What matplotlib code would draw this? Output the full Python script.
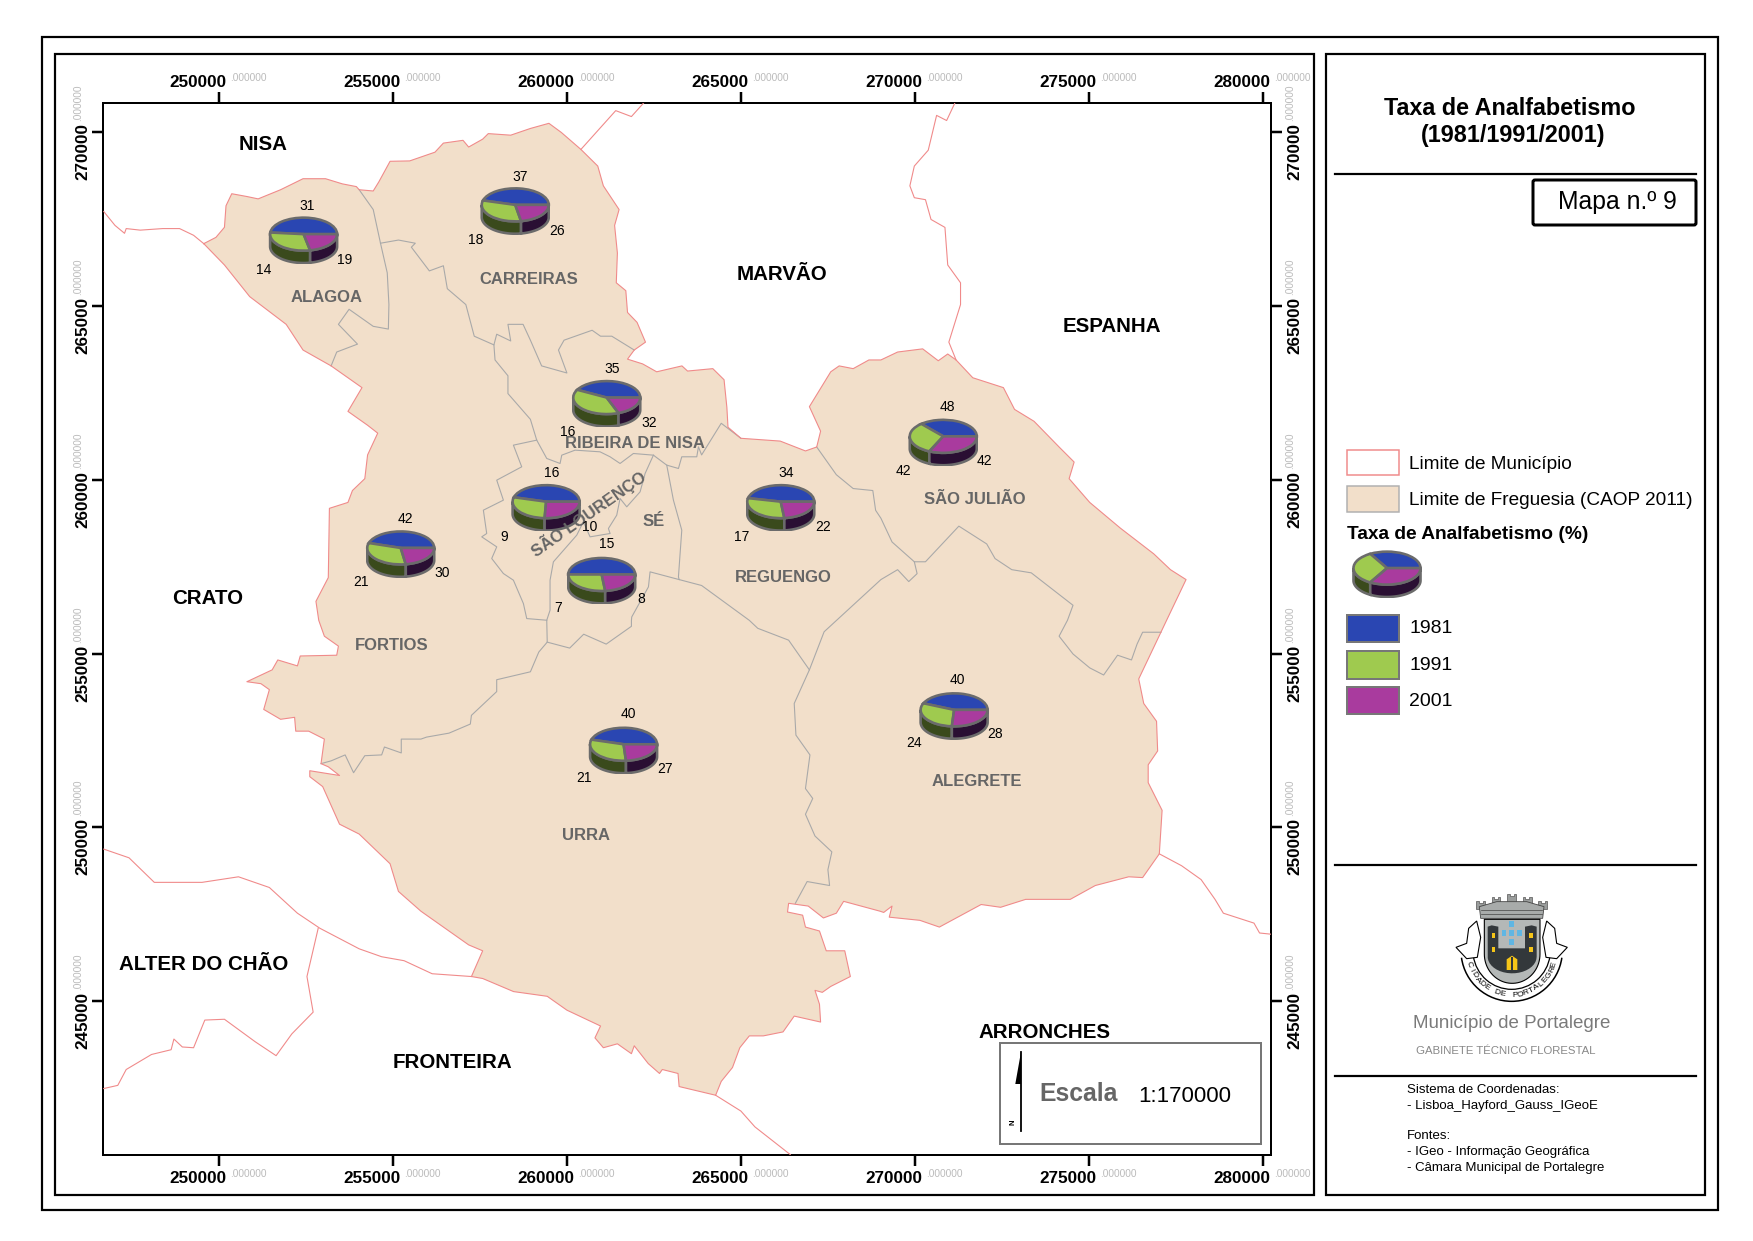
import numpy as np
import matplotlib
matplotlib.use("Agg")
import matplotlib.pyplot as plt
from matplotlib.patches import Rectangle, Polygon, Arc, FancyBboxPatch

plt.rcParams["font.family"] = ["Liberation Sans", "DejaVu Sans"]

W, H = 1753, 1241
DPI = 100

# ---- limites digitalizados (metros, Lisboa Hayford Gauss) ----
concelho = [
    (249550,266790),(249900,266970),(250145,267260),(250190,267880),(250355,268225),(250790,268145),
    (251113,268077),(251758,268340),(252403,268657),(253049,268657),(253532,268509),(253936,268430),
    (254016,268340),(254420,268304),(254581,268566),(254904,269158),(255468,269169),(256194,269420),
    (256436,269681),(257000,269761),(257162,269568),(257565,269795),(257726,269954),(258371,269909),
    (258936,270102),(259468,270250),(259823,269989),(260388,269499),(260872,269021),(261033,268452),
    (261485,267770),(261356,267314),(261436,266518),(261404,265664),(261678,265437),(261727,264811),
    (262001,264526),(262243,263957),(261920,263730),(261727,263468),(262162,263331),(262565,263104),
    (263291,263274),(263452,263126),(264178,263195),(264501,262876),(264582,262080),(264614,261511),
    (264985,261192),(266114,261112),(266840,260828),(267163,260942),(267275,261397),(266953,262102),
    (267566,263104),(267808,263274),(268211,263195),(268663,263445),(269008,263445),(269488,263673),
    (270208,263764),(270656,263422),(270928,263616),(271168,263445),(271648,262933),(272528,262649),
    (272848,262023),(273408,261681),(274128,260942),(274560,260509),(274416,260031),(275008,259348),
    (275888,258609),(276848,257869),(277328,257414),(277776,257129),(277216,255956),(276416,254272),
    (276560,253566),(276928,253054),(276960,252201),(276688,251802),(276688,251290),(277088,250494),
    (277008,249242),(276528,248559),(276128,248582),(275168,248331),(274448,247933),(273168,247933),
    (272448,247705),(271888,247785),(270688,247136),(270128,247330),(269248,247421),(269328,247740),
    (269088,247557),(268985,247592),(267937,247876),(267727,247535),(267356,247398),(266920,247740),
    (266356,247819),(266324,247569),(266759,247478),(266840,247136),(267243,247023),(267437,246454),
    (267969,246454),(268130,245714),(267566,245429),(267324,245259),(267114,245316),(267243,244917),
    (267275,244405),(266517,244576),(266195,244121),(265630,244007),(265227,244007),(264953,243666),
    (264743,243097),(264420,242698),(264259,242300),(263210,242550),(263178,242926),(262727,243040),
    (262646,242926),(262323,243210),(261920,243722),(261839,243495),(261436,243779),(261033,243666),
    (260791,243950),(260952,244291),(259985,244747),(259420,245145),(258452,245281),(257565,245657),
    (257242,245714),(257565,246454),(257162,246624),(255791,247592),(255145,248161),(254904,248957),
    (254016,249811),(253452,250095),(252968,251176),(252597,251461),(252597,251632),(253452,251495),
    (253129,251745),(252920,251836),(253016,252542),(252565,252770),(252194,252770),(252161,253168),
    (251758,253111),(251274,253395),(251436,253964),(251194,254135),(250790,254192),(251516,254533),
    (251678,254818),(252242,254647),(252323,254932),(253371,254954),(253420,255216),(253016,255501),
    (252855,255956),(252774,256503),(253129,257186),(253161,259178),(253694,259348),(253823,259690),
    (254178,260031),(254258,260714),(254549,261340),(254258,261567),(253694,261966),(254097,262649),
    (253210,263274),(252403,263730),(251919,264469),(250871,265266),(250145,266176),
]

# limites de municipio exteriores
municipios = [
    [(246677,267713),(247000,267314),(247274,267087),(247322,267223),(247726,267178),(248371,267223),
     (248855,267223),(249258,267030),(249550,266790)],
    [(260388,269499),(261388,270615),(261839,270444),(262194,270840)],
    [(271136,270840),(270896,270330),(270608,270478),(270368,269477),(269968,269021),(269840,268452),
     (269968,268111),(270288,268054),(270448,267485),(270848,267257),(270928,266176),(271296,265664),
     (271296,265038),(270960,263957),(271168,263445)],
    [(246677,249378),(247403,249128),(248129,248422),(249500,248422),(250548,248582),(251436,248274),
     (252242,247535),(252887,247102),(254016,246511),(254662,246283),(255307,246169),(256113,245794),
     (257242,245714)],
    [(252839,247102),(252516,245714),(252694,244690),(252081,244064),(251629,243438),(251032,243836),
     (250145,244485),(249581,244462),(249258,243666),(248935,243688),(248693,243916),(248613,243609),
     (248048,243472),(247322,243040),(247080,242584),(246677,242493)],
    [(264259,242300),(264985,241845),(265388,241390),(266404,240593)],
    [(277008,249242),(277648,248900),(278208,248502),(278608,247933),(278848,247535),(279728,247250),
     (279888,246966),(280208,246932)],
]

# limites de freguesia interiores
freguesias = [
    [(254016,268340),(254420,267770),(254629,266802),(254823,265949),(254871,265038),(254855,264333),
     (254420,264412),(253726,264902),(253420,264469),(253968,263900),(253371,263673),(253210,263274)],
    [(254629,266802),(255145,266893),(255629,266802),(255516,266688),(256033,266006),(256436,266154),
     (256549,265494),(257081,265038),(257323,264128),(257888,263878),(257968,264185),(258371,263991),
     (258291,264469),(258726,264469),(258936,264014),(259259,263274),(259985,263070),(259743,263730),
     (259904,264014),(260710,264299),(260952,264128),(261275,264128),(261920,263730)],
    [(257888,263878),(257920,263445),(258291,262990),(258291,262478),(258936,261738),(259118,261139),
     (259406,260612),(259789,260468),(259837,260707),(260220,260851),(260938,260803),(261226,260660),
     (261513,260468),(261896,260755),(262471,260707),(262854,260420),(263190,260324),(263286,260660),
     (263717,260660),(263765,260947),(263856,260714),(264420,261624),(264985,261192)],
    [(262471,260707),(262232,260180),(262088,259652),(261705,259221),(261513,259461),(261417,258981),
     (261178,258598),(261226,258454),(260651,258358),(260459,258789),(260268,258406),(259597,257639),
     (259501,257111),(259501,256248),(259406,255960),(259420,255330),(259178,255046),(258936,254477),
     (257968,254249),(257968,253908),(257242,253225),(257210,252974),(256597,252713),(255952,252599),
     (255791,252542),(255226,252542),(255226,252144),(254742,252314),(254662,252087),(254178,252064),
     (253855,251575),(253613,252087),(253210,251916),(252920,251836)],
    [(259118,261139),(258448,260995),(258687,260372),(257969,259988),(258160,259413),(257585,259125),
     (257681,258454),(257538,258358),(257969,258070),(257825,257735),(258160,257303),(258448,257111),
     (258735,256440),(258831,256008),(259406,255960)],
    [(262854,260420),(263046,259413),(263286,258550),(263190,257207),(263210,257129),(263856,256959),
     (265227,255957),(265469,255728),(266356,255387),(266953,254533),(266517,253566),(266566,252656),
     (266969,252087),(266840,251119),(267049,250835),(266840,250380),(267114,249754),(267598,249299),
     (267485,248787),(267533,248331),(266888,248445),(266549,247819)],
    [(259420,255330),(260065,255159),(260468,255558),(261114,255273),(261839,255785),(261839,255956),
     (261849,256056),(262328,256919),(262375,257351),(263210,257129)],
    [(266953,254533),(267376,255628),(269008,257129),(269488,257414),(269808,257072),(270048,257300),
     (269968,257641),(270288,257641),(271248,258666),(272048,258154),(272288,257733),(272768,257414),
     (273328,257323),(274528,256390),(274368,255957),(274128,255501),(274528,254989),(275008,254590),
     (275408,254385),(275808,254954),(276208,254818),(276368,255273),(276528,255615),(276960,255615),
     (277056,255615)],
    [(267163,260942),(267727,260145),(268211,259747),(268775,259690),(268856,259121),(269008,258893),
     (269328,258210),(269968,257641)],
]

# ---- taxa de analfabetismo por freguesia ----
pie_names = ["ALAGOA", "CARREIRAS", "RIBEIRA DE NISA", "SÃO LOURENÇO", "SÉ",
             "REGUENGO", "FORTIOS", "SÃO JULIÃO", "URRA", "ALEGRETE"]
v1981 = [31, 37, 35, 16, 15, 34, 42, 48, 40, 40]
v1991 = [19, 26, 32, 10, 8, 22, 30, 42, 27, 28]
v2001 = [14, 18, 16, 9, 7, 17, 21, 42, 21, 24]
pie_x = [252420, 258501, 261130, 259388, 260985, 266130, 255210, 270800, 261614, 271112]
pie_y = [267064, 267906, 262364, 259371, 257277, 259371, 258040, 261249, 252394, 253384]
legend_pie = [1, 1, 1]

# posicoes dos rotulos (px da folha)
pos1981 = [(307,204),(520,175),(612,367),(552,471),(607,542),(786,471),(405,517),(947,405),(628,712),(957,678)]
pos1991 = [(345,258),(557,229),(649,421),(590,525),(641,597),(823,525),(442,571),(984,459),(665,767),(995,732)]
pos2001 = [(264,268),(476,238),(568,430),(504,535),(558,606),(742,535),(361,580),(903,469),(584,776),(914,741)]

xticks = [250000, 255000, 260000, 265000, 270000, 275000, 280000]
yticks = [245000, 250000, 255000, 260000, 265000, 270000]

municipio_labels = [("NISA",263,143),("MARVÃO",782,272),("ESPANHA",1112,325),("CRATO",208,596),
                    ("ALTER DO CHÃO",204,962),("FRONTEIRA",452,1060),("ARRONCHES",1044,1031)]
freguesia_labels = [("ALAGOA",327,296),("CARREIRAS",529,277),("RIBEIRA DE NISA",635,442),("SÉ",654,520),
                    ("REGUENGO",783,576),("SÃO JULIÃO",975,498),("FORTIOS",392,644),("URRA",586,833),
                    ("ALEGRETE",977,780)]

BLUE, GREEN, PURPLE = "#2a46b2", "#9fca4f", "#a93b9e"
SIDE = ["#1a2660", "#3a4a1c", "#2a0f33"]
PIE_EDGE = "#6b6b6b"
PINK = "#f08a8a"
GREY_LINE = "#a9a9a9"
FILL = "#f2dfca"
GREY_TXT = "#666666"
PX = 72 / DPI   # 1 px em pontos


def draw_pie(ax_pie, vals):
    """Pie com aspeto 3D: lados escuros por baixo de uma elipse."""
    depth = 0.75
    a0 = 0.0
    total = sum(vals)
    for v, side in zip(vals, SIDE):
        a1 = a0 + 360.0 * v / total
        lo, hi = max(a0, 180.0), min(a1, 360.0)
        if hi > lo:
            t = np.radians(np.linspace(lo, hi, 40))
            xs = np.r_[np.cos(t), np.cos(t)[::-1]]
            ys = np.r_[np.sin(t), np.sin(t)[::-1] - depth]
            ax_pie.fill(xs, ys, fc=side, ec=PIE_EDGE, lw=2.6 * PX, zorder=0.5)
        a0 = a1
    ax_pie.pie(vals, colors=[BLUE, GREEN, PURPLE], startangle=0, counterclock=True, radius=1,
               wedgeprops={"edgecolor": PIE_EDGE, "linewidth": 2.6 * PX})
    ax_pie.set_aspect("auto")
    ax_pie.set_xlim(-1.05, 1.05)
    ax_pie.set_ylim(-1.8, 1.05)
    ax_pie.axis("off")


fig = plt.figure(figsize=(W / DPI, H / DPI), dpi=DPI, facecolor="white")

# ---- mapa ----
left, right, top, bottom = 103.3, 1270.9, 102.8, 1154.6
ax = fig.add_axes([left / W, 1 - bottom / H, (right - left) / W, (bottom - top) / H])
ax.set_xlim(246664, 280214)
ax.set_ylim(240593, 270840)

ax.add_patch(Polygon(concelho, closed=True, fc=FILL, ec="none", zorder=1))
for line in freguesias:
    xs, ys = zip(*line)
    ax.plot(xs, ys, color=GREY_LINE, lw=1.1 * PX, zorder=2)
xs, ys = zip(*(concelho + concelho[:1]))
ax.plot(xs, ys, color=PINK, lw=1.1 * PX, zorder=3)
for line in municipios:
    xs, ys = zip(*line)
    ax.plot(xs, ys, color=PINK, lw=1.1 * PX, zorder=3)

for s in ax.spines.values():
    s.set_linewidth(2 * PX)
ax.set_xticks(xticks)
ax.set_yticks(yticks)
ax.tick_params(top=True, right=True, length=11 * PX, width=2.5 * PX,
               labelbottom=False, labelleft=False)

for v in xticks:
    for yfrac, dy, dyg in [(1, 20.5, 25), (0, -24.3, -19)]:
        ax.annotate(str(v), xy=(v, yfrac), xycoords=("data", "axes fraction"), xytext=(7, dy),
                    textcoords="offset pixels", ha="right", va="center", fontsize=12.3, fontweight="bold")
        ax.annotate(".000000", xy=(v, yfrac), xycoords=("data", "axes fraction"), xytext=(10.5, dyg),
                    textcoords="offset pixels", ha="left", va="center", fontsize=7.3, color="#bbbbbb")
for v in yticks:
    for xfrac, dx, dxg in [(0, -20, -25), (1, 24, 19)]:
        ax.annotate(str(v), xy=(xfrac, v), xycoords=("axes fraction", "data"), xytext=(dx, -48),
                    textcoords="offset pixels", ha="center", va="bottom", rotation=90,
                    fontsize=12.3, fontweight="bold")
        ax.annotate(".000000", xy=(xfrac, v), xycoords=("axes fraction", "data"), xytext=(dxg, 11),
                    textcoords="offset pixels", ha="center", va="bottom", rotation=90,
                    fontsize=7.3, color="#bbbbbb")

# pies posicionadas pelas coordenadas do mapa
pw, ph = 2022, 1352
for cx, cy, a, b, c in zip(pie_x, pie_y, v1981, v1991, v2001):
    ins = ax.inset_axes([cx - pw / 2, cy - 855, pw, ph], transform=ax.transData, zorder=6)
    draw_pie(ins, [a, b, c])

# ---- camada da folha em px ----
fr = fig.add_axes([0, 0, 1, 1], zorder=5, facecolor="none")
fr.set_xlim(0, W)
fr.set_ylim(H, 0)
fr.axis("off")


def box(x0, y0, x1, y1, ec="black", fc="none", lw=2.2):
    fr.add_patch(Rectangle((x0, y0), x1 - x0, y1 - y0, fc=fc, ec=ec, lw=lw * PX))


def label(x, y, s, **kw):
    # o centro da caixa de texto fica ~2 px acima do centro visual
    fr.text(x, y + 2, s, **kw)


box(42, 36.8, 1718, 1209.7)
box(55, 53.8, 1313.7, 1194.6)
box(1326, 53.8, 1705, 1194.6)
for yy in [174, 864.8, 1076]:
    fr.plot([1335, 1696], [yy, yy], color="black", lw=2.2 * PX)
fr.add_patch(FancyBboxPatch((1534, 181), 161, 43, boxstyle="round,pad=1,rounding_size=2",
                            fc="white", ec="black", lw=3 * PX))

# rotulos do mapa
for s, x, y in municipio_labels:
    label(x, y, s, ha="center", va="center", fontsize=14.8, fontweight="bold", color="black")
for s, x, y in freguesia_labels:
    label(x, y, s, ha="center", va="center", fontsize=12, fontweight="bold", color=GREY_TXT)
label(588, 512, "SÃO LOURENÇO", ha="center", va="center", fontsize=12, fontweight="bold",
      color=GREY_TXT, rotation=35, rotation_mode="anchor")
for vals, positions in [(v1981, pos1981), (v1991, pos1991), (v2001, pos2001)]:
    for v, (x, y) in zip(vals, positions):
        label(x, y, str(v), ha="center", va="center", fontsize=10, color="black")

# titulo
label(1510, 106.5, "Taxa de Analfabetismo", ha="center", va="center", fontsize=16.8, fontweight="bold")
label(1513, 133.5, "(1981/1991/2001)", ha="center", va="center", fontsize=16.8, fontweight="bold")
label(1617, 200, "Mapa n.º 9", ha="center", va="center", fontsize=17.8)

# legenda
box(1346.6, 449.6, 1399.5, 475.3, ec=PINK, fc="white", lw=1.5)
box(1346.6, 485.6, 1399.5, 512.4, ec="#b0b0b0", fc=FILL, lw=1.5)
label(1409.5, 462.6, "Limite de Município", va="center", fontsize=13.7)
label(1409.5, 498.6, "Limite de Freguesia (CAOP 2011)", va="center", fontsize=13.7)
label(1347, 532.6, "Taxa de Analfabetismo (%)", va="center", fontsize=13.75, fontweight="bold")

lg = fig.add_axes([(1387 - 35.2) / W, 1 - (568 + 17.3) / H - 12.5 / H, 70.4 / W, 47 / H], zorder=7)
draw_pie(lg, legend_pie)

for (y0, y1), col, lab in zip([(615, 641.8), (650.9, 678.6), (687.3, 714.3)], [BLUE, GREEN, PURPLE],
                              ["1981", "1991", "2001"]):
    box(1346.6, y0, 1399.5, y1, ec="#777777", fc=col, lw=2)
    label(1409.5, (y0 + y1) / 2 - 1.5, lab, va="center", fontsize=14)

# escala
box(999.7, 1043, 1261.4, 1144, ec="#777777", fc="white", lw=2)
fr.plot([1021, 1021], [1052, 1131], color="black", lw=1.8 * PX)
fr.add_patch(Polygon([(1021, 1052), (1015.3, 1084), (1021, 1084)], closed=True, fc="black", ec="none"))
fr.text(1013, 1122, "N", rotation=90, ha="center", va="center", fontsize=5.5, fontweight="bold")
label(1079, 1092, "Escala", ha="center", va="center", fontsize=17.8, fontweight="bold", color=GREY_TXT)
label(1185, 1094, "1:170000", ha="center", va="center", fontsize=16)


# ---- brasao ----
def L(x, y):
    return 1320 + x / 3, 860 + y / 3


def poly(pts, fc, ec="black", lw=0.7, z=3):
    fr.add_patch(Polygon([L(*p) for p in pts], closed=True, fc=fc, ec=ec, lw=lw, zorder=z))


def rect(x0, y0, x1, y1, fc, z=5):
    poly([(x0, y0), (x1, y0), (x1, y1), (x0, y1)], fc, ec="none", z=z)


# coroa
for cxx, cyy in [(482, 122), (528, 110), (575, 102), (622, 110), (668, 122)]:
    poly([(cxx - 13, cyy + 24), (cxx - 13, cyy), (cxx - 6, cyy), (cxx - 6, cyy + 6), (cxx + 6, cyy + 6),
          (cxx + 6, cyy), (cxx + 13, cyy), (cxx + 13, cyy + 24)], "#9a9d9c", ec="#555555", lw=0.5)
poly([(482, 175), (478, 140), (530, 125), (620, 125), (672, 140), (668, 175)], "#a8abaa", ec="#444444", lw=0.6)
for yy in [150, 162]:
    fr.plot(*zip(L(484, yy), L(666, yy)), color="#444444", lw=0.5, zorder=4)

# aneis e volutas
for r, lw in [(152, 1.1), (116, 0.9)]:
    fr.add_patch(Arc(L(575, 272), 2 * r / 3, 2 * r / 3, theta1=8, theta2=172, color="black", lw=lw, zorder=3))
for sgn in [1, -1]:
    scroll = [(408, 262), (440, 250), (446, 205), (470, 183), (482, 232), (472, 292), (440, 296)]
    poly([(575 + sgn * (x - 575), y) for x, y in scroll], "white", lw=0.8)

# escudo
t = np.linspace(0, np.pi, 40)
shield = [(493, 178), (660, 178)] + [(576.5 + 83.5 * np.cos(a), 282 + 88 * np.sin(a)) for a in t]
poly(shield, "#b4b8b7", lw=0.8, z=4)
dark = "#33383b"
dark_shape = [(503, 200), (515, 196), (535, 200), (535, 265), (615, 265), (615, 200), (635, 196), (650, 200),
              (650, 290)] + [(576.5 + 73.5 * np.cos(a), 290 + 50 * np.sin(a)) for a in t[::2]]
poly(dark_shape, dark, ec="none", z=5)
yellow = "#f5c518"
for x0 in [515, 628]:
    for y0 in [220, 262]:
        rect(x0, y0, x0 + 10, y0 + 14, yellow, z=6)
poly([(560, 330), (560, 298), (576, 287), (592, 298), (592, 330)], yellow, ec="none", z=6)
rect(574, 290, 578, 330, dark, z=7)
for bx, by in [(575, 193), (552, 219), (575, 219), (598, 219), (575, 245)]:
    rect(bx - 7, by - 9, bx + 7, by + 9, "#5fb6e3", z=6)

# divisa em arco
motto = "CIDADE DE PORTALEGRE"
for i, ch in enumerate(motto):
    a = 162 - i * (144 / (len(motto) - 1))
    rad = np.radians(a)
    x, y = L(575 + 134 * np.cos(rad), 272 + 134 * np.sin(rad))
    fr.text(x, y, ch, rotation=90 - a, ha="center", va="center", fontsize=6, rotation_mode="anchor", zorder=6)

label(1511.7, 1022, "Município de Portalegre", ha="center", va="center", fontsize=13.5, color="#7a7a7a")
label(1506, 1048.5, "GABINETE TÉCNICO FLORESTAL", ha="center", va="center", fontsize=8.2, color="#888888")

notas = [("Sistema de Coordenadas:", 1088.3), ("- Lisboa_Hayford_Gauss_IGeoE", 1104.3), ("Fontes:", 1134.3),
         ("- IGeo - Informação Geográfica", 1150.3), ("- Câmara Municipal de Portalegre", 1165.7)]
for s, y in notas:
    label(1407, y, s, va="center", fontsize=9.55, color="black")

fig.savefig("out.png", dpi=DPI, facecolor="white")
